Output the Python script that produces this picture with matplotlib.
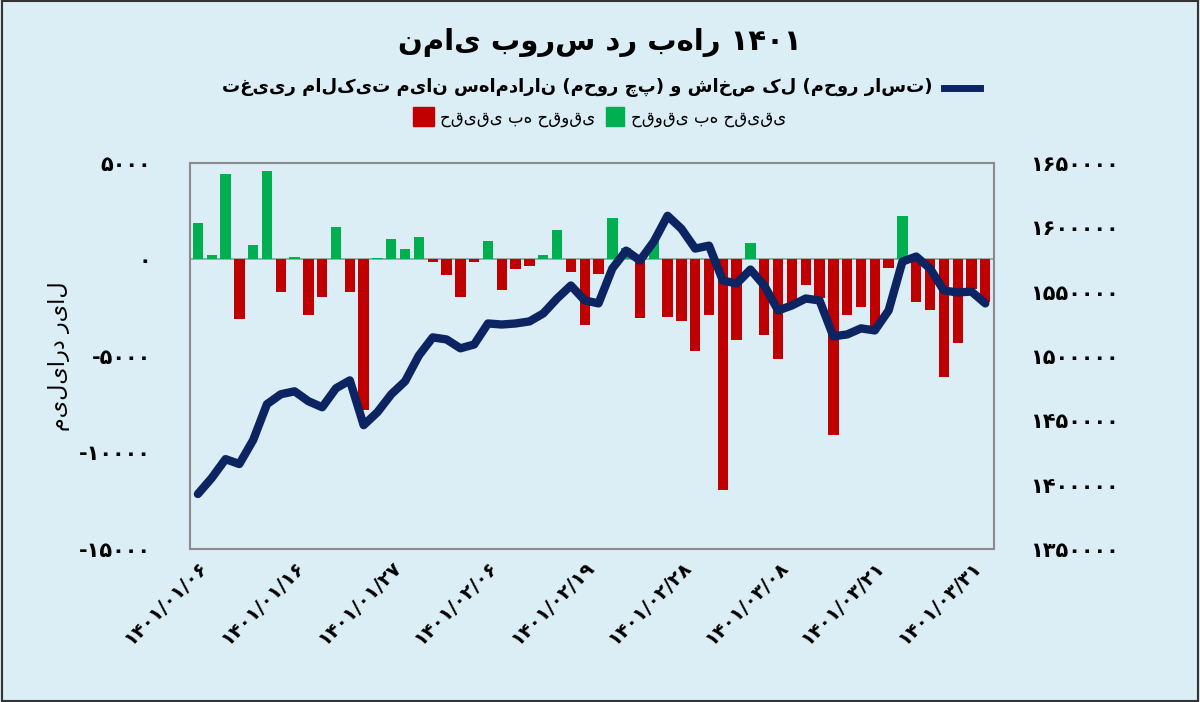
import matplotlib
matplotlib.use("Agg")
import matplotlib.pyplot as plt
from matplotlib.patches import Rectangle
from matplotlib.lines import Line2D
import numpy as np

flow = [1900, 230, 4440, -3070, 750, 4600, -1670, 120, -2860, -1930, 1700, -1700, -7800, 70,
        1070, 540, 1180, -120, -800, -1930, -120, 960, -1600, -490, -350, 230, 1540, -650,
        -3390, -750, 2120, 600, -3020, 930, -2980, -3200, -4720, -2900, -11950, -4170, 860,
        -3910, -5170, -2280, -1320, -2000, -9120, -2900, -2470, -3500, -470, 2260, -2190,
        -2600, -6100, -4330, -1530, -2200]
index = [1392700, 1405100, 1419800, 1416000, 1434600, 1462500, 1470200, 1472500, 1464800,
         1460100, 1474900, 1481000, 1446200, 1456300, 1470200, 1480300, 1500400, 1514400,
         1512800, 1505900, 1508900, 1525200, 1524400, 1525200, 1526800, 1533000, 1544600,
         1554700, 1543100, 1540800, 1567900, 1581800, 1574100, 1588800, 1608900, 1598800,
         1583400, 1585700, 1558600, 1556200, 1567100, 1554700, 1535300, 1539200, 1544600,
         1543100, 1515200, 1516700, 1521400, 1519800, 1535300, 1573300, 1577200, 1567900,
         1550800, 1549300, 1550000, 1540800]
tick_pos = [0, 7, 14, 21, 28, 35, 42, 49, 56]
tick_labels = ["۱۴۰۱/۰۱/۰۶", "۱۴۰۱/۰۱/۱۶", "۱۴۰۱/۰۱/۲۷", "۱۴۰۱/۰۲/۰۶", "۱۴۰۱/۰۲/۱۹",
               "۱۴۰۱/۰۲/۲۸", "۱۴۰۱/۰۳/۰۸", "۱۴۰۱/۰۳/۲۱", "۱۴۰۱/۰۳/۳۱"]
left_ticks = [5000, 0, -5000, -10000, -15000]
left_labels = ["۵۰۰۰", "۰", "-۵۰۰۰", "-۱۰۰۰۰", "-۱۵۰۰۰"]
right_ticks = [1350000, 1400000, 1450000, 1500000, 1550000, 1600000, 1650000]
right_labels = ["۱۳۵۰۰۰۰", "۱۴۰۰۰۰۰", "۱۴۵۰۰۰۰", "۱۵۰۰۰۰۰", "۱۵۵۰۰۰۰", "۱۶۰۰۰۰۰", "۱۶۵۰۰۰۰"]

BG = "#dbedf5"
GREEN = "#00b050"
RED = "#c00000"
NAVY = "#0d2463"

fig = plt.figure(figsize=(12, 7.02), dpi=100, facecolor=BG)
fig.patches.append(Rectangle((0.002, 0.002), 0.996, 0.996, transform=fig.transFigure,
                             fill=False, edgecolor="#333333", lw=1.5))
ax = fig.add_axes([0.158, 0.218, 0.67, 0.55])
ax.set_facecolor(BG)
x = np.arange(len(flow))
colors = [GREEN if v >= 0 else RED for v in flow]
ax.bar(x, flow, width=0.75, color=colors, zorder=2)
ax.axhline(0, color="#999999", lw=1.2, zorder=1)
ax.set_ylim(-15000, 5000)
ax.set_xlim(-0.6, len(flow) - 0.4)
ax.set_yticks(left_ticks)
ax.set_yticklabels(left_labels, fontsize=15, fontweight="bold")
ax.set_xticks(tick_pos)
ax.set_xticklabels(tick_labels, rotation=45, ha="right", rotation_mode="anchor",
                   fontsize=14, fontweight="bold")
ax.tick_params(length=0, pad=28, axis="y")
ax.tick_params(length=0, pad=6, axis="x")
for s in ax.spines.values():
    s.set_color("#8a8a8a"); s.set_linewidth(1.5)
ax.set_ylabel("میلیارد ریال", fontsize=16, labelpad=6)

ax2 = ax.twinx()
ax2.plot(x, index, color=NAVY, lw=6, zorder=3, solid_joinstyle="round", solid_capstyle="round")
ax2.set_ylim(1350000, 1650000)
ax2.set_yticks(right_ticks)
ax2.set_yticklabels(right_labels, fontsize=15, fontweight="bold")
ax2.tick_params(length=0, pad=26)
for s in ax2.spines.values():
    s.set_visible(False)

fig.text(0.5, 0.94, "نمای بورس در بهار ۱۴۰۱", ha="center", va="center", fontsize=21, fontweight="bold")
fig.text(0.777, 0.875, "تغییر مالکیت میان سهامداران (محور چپ) و شاخص کل (محور راست)",
         ha="right", va="center", fontsize=13, fontweight="bold")
fig.add_artist(Line2D([0.787, 0.817], [0.875, 0.875], transform=fig.transFigure, color=NAVY, lw=5))
fig.patches.append(Rectangle((0.344, 0.821), 0.018, 0.026, transform=fig.transFigure, color=RED))
fig.text(0.367, 0.832, "حقیقی به حقوقی", ha="left", va="center", fontsize=12)
fig.patches.append(Rectangle((0.505, 0.821), 0.015, 0.026, transform=fig.transFigure, color=GREEN))
fig.text(0.526, 0.832, "حقوقی به حقیقی", ha="left", va="center", fontsize=12)

fig.savefig("out.png", dpi=100, facecolor=BG)
